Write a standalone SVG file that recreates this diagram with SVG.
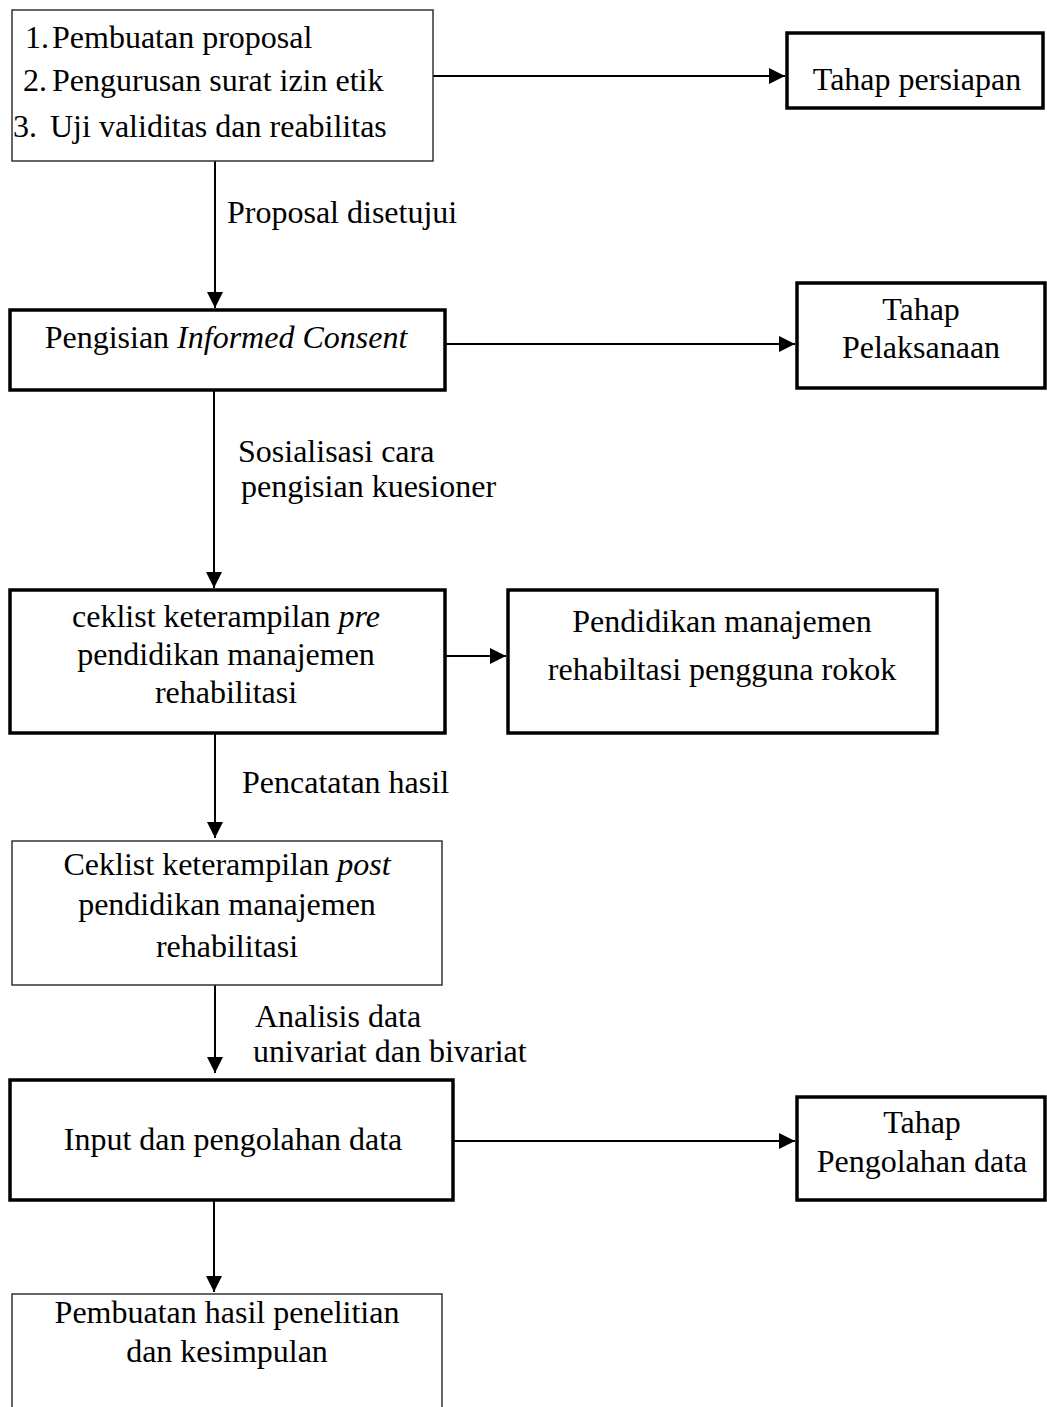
<svg xmlns="http://www.w3.org/2000/svg" width="1047" height="1407" viewBox="0 0 1047 1407">
<defs>
<marker id="arr" markerUnits="userSpaceOnUse" markerWidth="16" markerHeight="16" viewBox="0 0 16 16" refX="16" refY="8" orient="auto">
<path d="M0,0 L16,8 L0,16 z" fill="#000"/>
</marker>
<style>
text{font-family:"Liberation Serif","Times New Roman",serif;font-size:32px;fill:#000}
.c{text-anchor:middle}
.thin{fill:#fff;stroke:#333;stroke-width:1.5}
.thick{fill:#fff;stroke:#000;stroke-width:3.5}
.ln{stroke:#000;stroke-width:2;fill:none}
</style>
</defs>
<rect width="1047" height="1407" fill="#fff"/>
<g id="connectors">
<line class="ln" x1="433" y1="76" x2="785" y2="76" marker-end="url(#arr)"/>
<line class="ln" x1="215" y1="161" x2="215" y2="308" marker-end="url(#arr)"/>
<line class="ln" x1="445" y1="344" x2="795" y2="344" marker-end="url(#arr)"/>
<line class="ln" x1="214" y1="390" x2="214" y2="588" marker-end="url(#arr)"/>
<line class="ln" x1="445" y1="656" x2="506" y2="656" marker-end="url(#arr)"/>
<line class="ln" x1="215" y1="733" x2="215" y2="838" marker-end="url(#arr)"/>
<line class="ln" x1="215" y1="985" x2="215" y2="1073" marker-end="url(#arr)"/>
<line class="ln" x1="453" y1="1141" x2="795" y2="1141" marker-end="url(#arr)"/>
<line class="ln" x1="214" y1="1200" x2="214" y2="1292" marker-end="url(#arr)"/>
<text x="227" y="223">Proposal disetujui</text>
<text x="238" y="462">Sosialisasi cara</text>
<text x="241" y="497">pengisian kuesioner</text>
<text x="242" y="793">Pencatatan hasil</text>
<text x="255" y="1027">Analisis data</text>
<text x="253" y="1062">univariat dan bivariat</text>
</g>
<g id="n-persiapan-list">
<rect class="thin" x="12" y="10" width="421" height="151"/>
<text x="25" y="48">1.</text><text x="52" y="48">Pembuatan proposal</text>
<text x="23" y="91">2.</text><text x="52" y="91">Pengurusan surat izin etik</text>
<text x="13" y="137">3.</text><text x="50" y="137">Uji validitas dan reabilitas</text>
</g>
<g id="n-tahap-persiapan">
<rect class="thick" x="787" y="33" width="256" height="75"/>
<text class="c" x="917" y="90">Tahap persiapan</text>
</g>
<g id="n-informed-consent">
<rect class="thick" x="10" y="310" width="435" height="80"/>
<text class="c" x="226" y="348">Pengisian <tspan font-style="italic">Informed Consent</tspan></text>
</g>
<g id="n-tahap-pelaksanaan">
<rect class="thick" x="797" y="283" width="248" height="105"/>
<text class="c" x="921" y="320">Tahap</text>
<text class="c" x="921" y="358">Pelaksanaan</text>
</g>
<g id="n-ceklist-pre">
<rect class="thick" x="10" y="590" width="435" height="143"/>
<text class="c" x="226" y="627">ceklist keterampilan <tspan font-style="italic">pre</tspan></text>
<text class="c" x="226" y="665">pendidikan manajemen</text>
<text class="c" x="226" y="703">rehabilitasi</text>
</g>
<g id="n-pendidikan">
<rect class="thick" x="508" y="590" width="429" height="143"/>
<text class="c" x="722" y="632">Pendidikan manajemen</text>
<text class="c" x="722" y="680">rehabiltasi pengguna rokok</text>
</g>
<g id="n-ceklist-post">
<rect class="thin" x="12" y="841" width="430" height="144"/>
<text class="c" x="227" y="875">Ceklist keterampilan <tspan font-style="italic">post</tspan></text>
<text class="c" x="227" y="915">pendidikan manajemen</text>
<text class="c" x="227" y="957">rehabilitasi</text>
</g>
<g id="n-input">
<rect class="thick" x="10" y="1080" width="443" height="120"/>
<text class="c" x="233" y="1150">Input dan pengolahan data</text>
</g>
<g id="n-tahap-pengolahan">
<rect class="thick" x="797" y="1097" width="248" height="103"/>
<text class="c" x="922" y="1133">Tahap</text>
<text class="c" x="922" y="1172">Pengolahan data</text>
</g>
<g id="n-hasil">
<rect class="thin" x="12" y="1294" width="430" height="115"/>
<text class="c" x="227" y="1323">Pembuatan hasil penelitian</text>
<text class="c" x="227" y="1362">dan kesimpulan</text>
</g>
</svg>
